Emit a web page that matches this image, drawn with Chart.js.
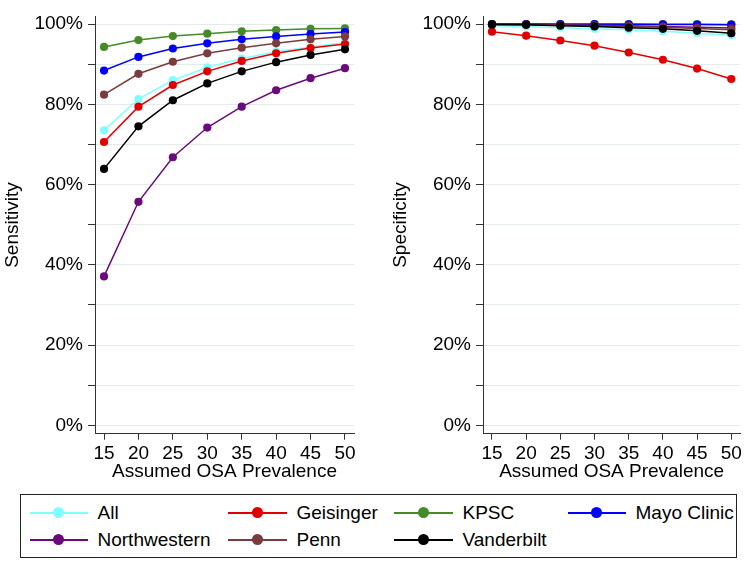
<!DOCTYPE html>
<html>
<head>
<meta charset="utf-8">
<script src="https://cdn.jsdelivr.net/npm/chart.js@4.4.1/dist/chart.umd.min.js"></script>
<style>
  html, body { margin:0; padding:0; background:#fff; }
  body { width:745px; height:561px; position:relative; overflow:hidden; font-family:"Liberation Sans", Arial, sans-serif; }
  .cv { position:absolute; top:0; }
  #legend { position:absolute; left:20px; top:494px; width:715px; height:62px; border:1.5px solid #222; box-sizing:content-box; }
  .li { position:absolute; height:20px; }
  .ln { position:absolute; height:2px; top:9px; }
  .mk { position:absolute; width:11px; height:11px; border-radius:50%; top:4.5px; }
  .tx { position:absolute; top:-2px; font-size:19px; line-height:24px; color:#000; white-space:nowrap; }
</style>
</head>
<body>
<div class="cv" style="left:0;width:372px;height:481px;"><canvas id="c1"></canvas></div>
<div class="cv" style="left:388px;width:357px;height:481px;"><canvas id="c2"></canvas></div>
<div id="legend"></div>
<script>
// ---- data ----
const prevalence = [15, 20, 25, 30, 35, 40, 45, 50];
const seriesNames = ["All", "Geisinger", "KPSC", "Mayo Clinic", "Northwestern", "Penn", "Vanderbilt"];
const seriesColors = ["#80ffff", "#e00000", "#478a2a", "#0000ff", "#6b0a7d", "#7a3c3c", "#000000"];

const sensAll          = [73.5, 81.3, 86.0, 89.2, 91.4, 93.1, 94.3, 95.4];
const sensGeisinger    = [70.6, 79.4, 84.8, 88.2, 90.8, 92.7, 94.0, 95.0];
const sensKPSC         = [94.3, 96.0, 97.0, 97.6, 98.2, 98.5, 98.8, 98.9];
const sensMayo         = [88.4, 91.8, 93.9, 95.2, 96.2, 96.9, 97.5, 98.0];
const sensNorthwestern = [37.1, 55.7, 66.8, 74.2, 79.4, 83.5, 86.5, 89.0];
const sensPenn         = [82.4, 87.6, 90.6, 92.7, 94.1, 95.2, 96.2, 96.9];
const sensVanderbilt   = [63.9, 74.5, 81.0, 85.2, 88.2, 90.5, 92.3, 93.7];

const specAll          = [99.6, 99.4, 99.1, 98.8, 98.6, 98.2, 97.7, 97.2];
const specGeisinger    = [98.1, 97.1, 95.9, 94.6, 92.9, 91.1, 88.9, 86.3];
const specKPSC         = [100.0, 100.0, 100.0, 100.0, 100.0, 99.95, 99.95, 99.9];
const specMayo         = [100.0, 99.98, 99.97, 99.95, 99.93, 99.9, 99.88, 99.85];
const specNorthwestern = [99.9, 99.9, 99.8, 99.7, 99.6, 99.4, 99.2, 99.0];
const specPenn         = [99.9, 99.8, 99.7, 99.6, 99.4, 99.2, 98.9, 98.6];
const specVanderbilt   = [99.9, 99.8, 99.6, 99.4, 99.1, 98.8, 98.3, 97.7];

const xTicks = [15, 20, 25, 30, 35, 40, 45, 50];
const yTicks = [0, 10, 20, 30, 40, 50, 60, 70, 80, 90, 100];
const xTitle = "Assumed OSA Prevalence";

const sensSeries = [sensAll, sensGeisinger, sensKPSC, sensMayo, sensNorthwestern, sensPenn, sensVanderbilt];
const specSeries = [specAll, specGeisinger, specKPSC, specMayo, specNorthwestern, specPenn, specVanderbilt];

const FONT = { family: '"Liberation Sans", Arial, sans-serif', size: 19 };

function makeDatasets(series) {
  return series.map((vals, i) => ({
    label: seriesNames[i],
    data: vals.map((v, j) => ({ x: prevalence[j], y: v })),
    borderColor: seriesColors[i],
    backgroundColor: seriesColors[i],
    pointBackgroundColor: seriesColors[i],
    pointBorderColor: seriesColors[i],
    pointRadius: 4.1,
    pointBorderWidth: 0,
    borderWidth: 1.5,
    tension: 0,
    order: series.length - i
  }));
}

function makeChart(id, series, yTitle, padRight) {
  return new Chart(document.getElementById(id), {
    type: 'line',
    data: { datasets: makeDatasets(series) },
    options: {
      responsive: true,
      maintainAspectRatio: false,
      animation: false,
      events: [],
      layout: { padding: { top: 2, right: padRight, bottom: 0, left: 0 } },
      plugins: { legend: { display: false }, tooltip: { enabled: false } },
      scales: {
        x: {
          type: 'linear', min: 13.69, max: 51.31,
          afterBuildTicks: s => { s.ticks = xTicks.map(v => ({ value: v })); },
          afterFit: s => { s.height = 47.3; },
          ticks: { font: FONT, color: '#000', padding: 3, maxRotation: 0, autoSkip: false },
          grid: { drawOnChartArea: false, tickColor: '#333', tickLength: 6 },
          border: { color: '#333', width: 1 },
          title: { display: true, text: xTitle, color: '#000', font: Object.assign({}, FONT, { lineHeight: 1 }), padding: { top: 0, bottom: 0 } }
        },
        y: {
          type: 'linear', min: -2.1, max: 101.9,
          afterBuildTicks: s => { s.ticks = yTicks.map(v => ({ value: v })); },
          afterFit: s => { s.width = 95; },
          ticks: { font: FONT, color: '#000', padding: 5, autoSkip: false, callback: v => (v % 20 === 0 ? v + '%' : '') },
          grid: { color: '#e4ebeb', tickColor: '#333', tickLength: 7, lineWidth: 1 },
          border: { color: '#333', width: 1 },
          title: { display: true, text: yTitle, color: '#000', font: FONT, padding: { top: 1, bottom: 0 } }
        }
      }
    }
  });
}

makeChart('c1', sensSeries, 'Sensitivity', 18);
makeChart('c2', specSeries, 'Specificity', 3);

// ---- legend (HTML) ----
const legendCols = [[30, 88, 98], [228, 287, 297], [394, 453, 463], [568, 626, 636]];
const legendRows = [513, 540];
const lg = document.getElementById('legend');
seriesNames.forEach((name, i) => {
  const col = legendCols[i % 4], row = legendRows[Math.floor(i / 4)];
  const ox = 21.5, oy = 495.5;
  const item = document.createElement('div');
  item.className = 'li';
  item.style.left = '0px';
  item.style.top = (row - 10 - oy) + 'px';
  item.style.width = '700px';
  const ln = document.createElement('div');
  ln.className = 'ln';
  ln.style.left = (col[0] - ox) + 'px';
  ln.style.width = (col[1] - col[0]) + 'px';
  ln.style.background = seriesColors[i];
  const mk = document.createElement('div');
  mk.className = 'mk';
  mk.style.left = ((col[0] + col[1]) / 2 - 5.5 - ox) + 'px';
  mk.style.background = seriesColors[i];
  const tx = document.createElement('div');
  tx.className = 'tx';
  tx.style.left = (col[2] - ox) + 'px';
  tx.textContent = name;
  item.appendChild(ln); item.appendChild(mk); item.appendChild(tx);
  lg.appendChild(item);
});
</script>
</body>
</html>
